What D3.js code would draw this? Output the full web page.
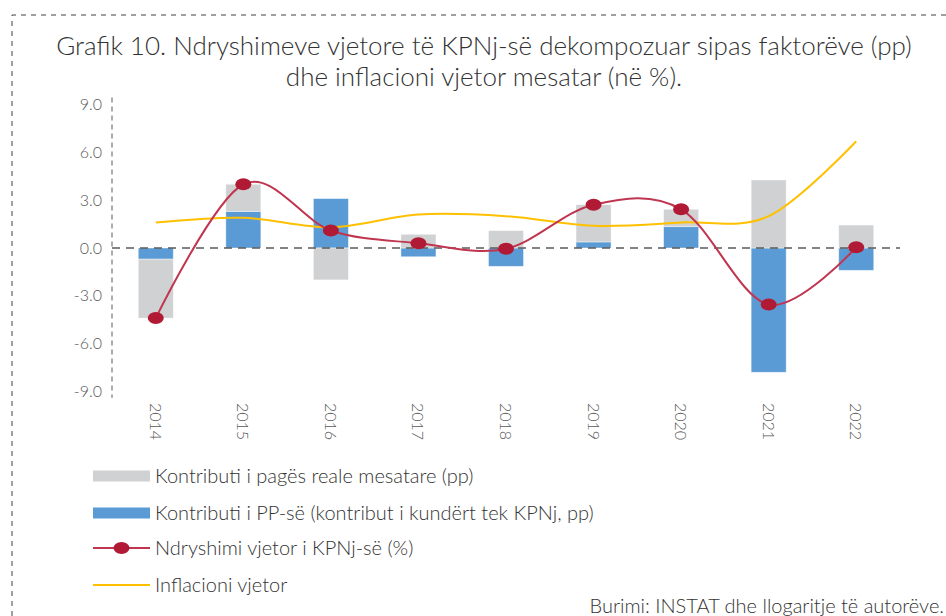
<!DOCTYPE html>
<html lang="sq">
<head>
<meta charset="utf-8">
<title>Grafik 10</title>
<script src="https://d3js.org/d3.v7.min.js"></script>
<style>
  body { margin: 0; background: #fff; }
  text { font-family: "Lato", "Open Sans", sans-serif; font-weight: 300; }
</style>
</head>
<body>
<div id="chart"></div>
<script>
// data
var years = ["2014", "2015", "2016", "2017", "2018", "2019", "2020", "2021", "2022"];
var pageContrib = [-3.7, 1.7, -2.0, 0.86, 1.09, 2.34, 1.09, 4.27, 1.44];   // kontributi i pagës reale
var ppContrib   = [-0.7, 2.3, 3.1, -0.55, -1.15, 0.38, 1.34, -7.8, -1.4];  // kontributi i PP-së
var kpnj        = [-4.4, 4.0, 1.1, 0.3, -0.05, 2.72, 2.43, -3.55, 0.05];   // ndryshimi vjetor i KPNj-së
var inflation   = [1.6, 1.9, 1.3, 2.1, 2.0, 1.4, 1.6, 2.0, 6.7];           // inflacioni vjetor
var yTicks = [9, 6, 3, 0, -3, -6, -9];

var W = 946, H = 616;
var svg = d3.select("#chart").append("svg")
  .attr("width", W)
  .attr("height", H);

// dashed frame (top + left)
svg.append("path")
  .attr("d", "M12,616 L12,15 L946,15")
  .attr("fill", "none")
  .attr("stroke", "#404040")
  .attr("stroke-width", 1)
  .attr("stroke-dasharray", "5,5");

// title
svg.append("text")
  .attr("x", 484).attr("y", 55)
  .attr("text-anchor", "middle")
  .style("font-size", "26px")
  .attr("fill", "#333333")
  .text("Grafik 10. Ndryshimeve vjetore të KPNj-së dekompozuar sipas faktorëve (pp)");
svg.append("text")
  .attr("x", 484).attr("y", 86)
  .attr("text-anchor", "middle")
  .style("font-size", "26px")
  .attr("fill", "#333333")
  .text("dhe inflacioni vjetor mesatar (në %).");

// scales
var x = d3.scaleBand()
  .domain(years)
  .range([112, 900])
  .paddingInner(0.6)
  .paddingOuter(0.3);

var y = d3.scaleLinear()
  .domain([-9, 9])
  .range([391.4, 104.6]);

var cx = function(d, i) { return x(years[i]) + x.bandwidth() / 2; };

// y axis
var yAxis = svg.append("g")
  .attr("transform", "translate(112,0)")
  .call(d3.axisLeft(y).tickValues(yTicks).tickSize(0).tickPadding(10)
    .tickFormat(function(d) { return d.toFixed(1); }));
yAxis.select(".domain").remove();
yAxis.selectAll("text")
  .style("font-size", "16px")
  .attr("fill", "#595959");
svg.append("line")
  .attr("x1", 112).attr("x2", 112)
  .attr("y1", y(9.45)).attr("y2", y(-9.4))
  .attr("stroke", "#7f7f7f")
  .attr("stroke-width", 1.3)
  .attr("stroke-dasharray", "5,4");

// stacked bars (blue first, then grey)
var rows = years.map(function(yr, i) {
  return { year: yr, pp: ppContrib[i], page: pageContrib[i] };
});
var stack = d3.stack().keys(["pp", "page"]).offset(d3.stackOffsetDiverging);
var series = stack(rows);
var barColor = { pp: "#5b9bd5", page: "#d0d1d3" };

svg.append("g")
  .selectAll("g")
  .data(series)
  .join("g")
    .attr("fill", function(s) { return barColor[s.key]; })
  .selectAll("rect")
  .data(function(s) { return s; })
  .join("rect")
    .attr("x", function(d) { return x(d.data.year); })
    .attr("width", x.bandwidth())
    .attr("y", function(d) { return y(Math.max(d[0], d[1])); })
    .attr("height", function(d) { return Math.abs(y(d[0]) - y(d[1])); })
    .attr("stroke", "#ffffff")
    .attr("stroke-opacity", 0.5)
    .attr("stroke-width", 0.8);

// zero line
svg.append("line")
  .attr("x1", 112).attr("x2", 900)
  .attr("y1", y(0)).attr("y2", y(0))
  .attr("stroke", "#595959")
  .attr("stroke-width", 1.5)
  .attr("stroke-dasharray", "8,6");

// inflation line
var smooth = d3.line()
  .x(cx)
  .y(function(d) { return y(d); })
  .curve(d3.curveCardinal.tension(0));

svg.append("path")
  .datum(inflation)
  .attr("d", smooth)
  .attr("fill", "none")
  .attr("stroke", "#ffc000")
  .attr("stroke-width", 2);

// kpnj line + markers
svg.append("path")
  .datum(kpnj)
  .attr("d", smooth)
  .attr("fill", "none")
  .attr("stroke", "#c0354f")
  .attr("stroke-width", 2);

svg.append("g")
  .selectAll("ellipse")
  .data(kpnj)
  .join("ellipse")
    .attr("cx", cx)
    .attr("cy", function(d) { return y(d); })
    .attr("rx", 8)
    .attr("ry", 6)
    .attr("fill", "#b01a35");

// x labels, rotated
svg.append("g")
  .selectAll("text")
  .data(years)
  .join("text")
    .attr("transform", function(d) { return "translate(" + (x(d) + x.bandwidth() / 2 - 6) + ",403) rotate(90)"; })
    .style("font-size", "16px")
    .attr("fill", "#595959")
    .text(function(d) { return d; });

// legend
var legendItems = [
  { label: "Kontributi i pagës reale mesatare (pp)", type: "bar", color: "#d0d1d3" },
  { label: "Kontributi i PP-së (kontribut i kundërt tek KPNj, pp)", type: "bar", color: "#5b9bd5" },
  { label: "Ndryshimi vjetor i KPNj-së (%)", type: "marker", color: "#c0354f" },
  { label: "Inflacioni vjetor", type: "line", color: "#ffc000" }
];
var legendY = [476, 513, 548, 585];

var lg = svg.append("g")
  .selectAll("g")
  .data(legendItems)
  .join("g")
    .attr("transform", function(d, i) { return "translate(93," + legendY[i] + ")"; });

lg.filter(function(d) { return d.type === "bar"; })
  .append("rect")
    .attr("x", 0).attr("y", -5.5)
    .attr("width", 57).attr("height", 11)
    .attr("fill", function(d) { return d.color; });

lg.filter(function(d) { return d.type !== "bar"; })
  .append("line")
    .attr("x1", 0).attr("x2", 57)
    .attr("stroke", function(d) { return d.color; })
    .attr("stroke-width", 2);

lg.filter(function(d) { return d.type === "marker"; })
  .append("ellipse")
    .attr("cx", 28.5).attr("rx", 8).attr("ry", 6)
    .attr("fill", "#b01a35");

lg.append("text")
  .attr("x", 62)
  .attr("dy", "0.35em")
  .style("font-size", "20px")
  .attr("fill", "#333333")
  .text(function(d) { return d.label; });

// source
svg.append("text")
  .attr("x", 944).attr("y", 613)
  .attr("text-anchor", "end")
  .style("font-size", "20px")
  .attr("fill", "#333333")
  .text("Burimi: INSTAT dhe llogaritje të autorëve.");
</script>
</body>
</html>
